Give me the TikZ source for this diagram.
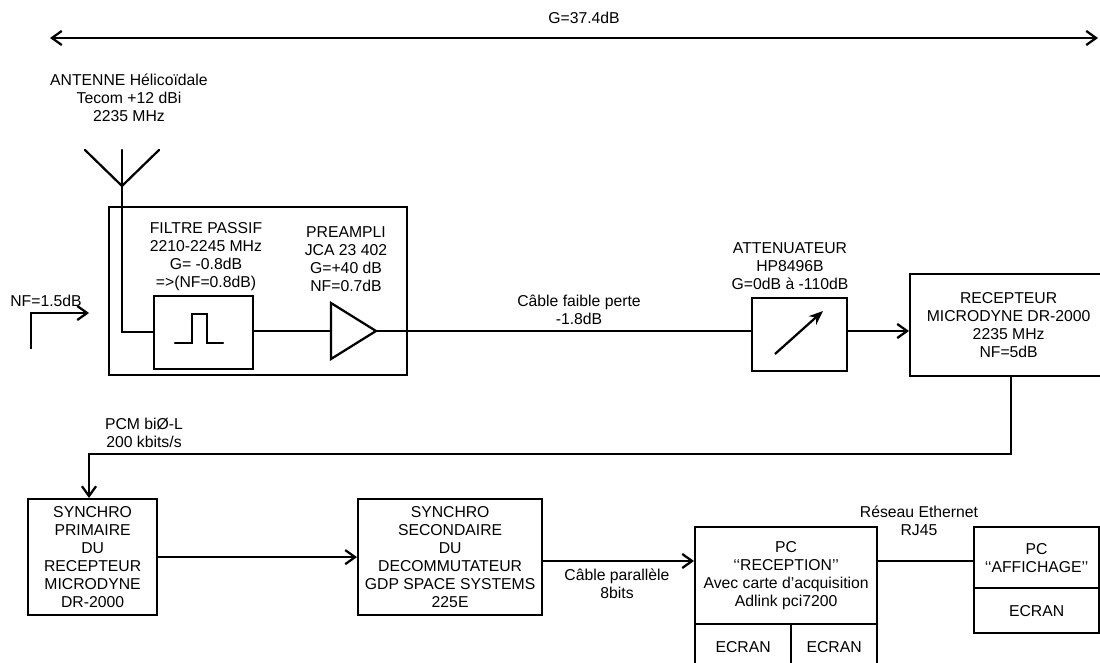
\documentclass[tikz,border=0pt]{standalone}
\usepackage{fontspec}
\setmainfont{Liberation Sans}
\usepackage{tikz}
\usetikzlibrary{arrows.meta, shapes.geometric}

\begin{document}
\begin{tikzpicture}[
    x=0.025cm, y=-0.025cm,
    line width=1.6pt,
    txt/.style={font=\fontsize{11.2}{12.8}\selectfont, align=center, inner sep=0pt},
    blk/.style={txt, draw, anchor=north west},
    arr/.style={-{Straight Barb[length=7pt, width=10pt, line width=1.6pt]}},
    dblarr/.style={{Straight Barb[length=7pt, width=10pt, line width=1.6pt]}-{Straight Barb[length=7pt, width=10pt, line width=1.6pt]}},
    wire/.style={line cap=round, line join=miter},
]
\useasboundingbox (0,0) rectangle (1100,663);

% Overall gain
\node[txt] (gain) at (584, 18) {G=37.4dB};
\coordinate (gainL) at (50, 38);
\coordinate (gainR) at (1098, 38);
\draw[dblarr] (gainL) -- (gainR);

% Antenna
\node[txt] (antlbl) at (129, 98) {ANTENNE Hélicoïdale\\Tecom +12 dBi\\2235 MHz};
\coordinate (antfoot) at (122, 186);
\coordinate (antmid) at (122, 150);
\coordinate (antL) at (85, 150);
\coordinate (antR) at (159, 150);
\coordinate (antcorner) at (122, 332);
\draw[wire] (antL) -- (antfoot) -- (antR);
\draw[wire] (antmid) -- (antfoot);

% Head-end box
\node[blk, minimum width=298*0.025cm, minimum height=168*0.025cm] (tete) at (108, 206) {};
\node[txt] (filtrelbl) at (206, 257) {FILTRE PASSIF\\2210-2245 MHz\\G= -0.8dB\\=>(NF=0.8dB)};
\node[blk, minimum width=99*0.025cm, minimum height=73*0.025cm] (filtre) at (153, 295) {};
\draw[wire] (175, 343) -- (192, 343) -- (192, 314) -- (207, 314) -- (207, 343) -- (223, 343);
\node[txt] (amplilbl) at (346, 259) {PREAMPLI\\JCA 23 402\\G=+40 dB\\NF=0.7dB};
\node[draw, isosceles triangle, isosceles triangle stretches, inner sep=0pt, outer sep=0pt, anchor=apex,
    minimum height=45*0.025cm, minimum width=56*0.025cm] (ampli) at (376, 331) {};

% Noise figure mark
\node[txt] (nflbl) at (46, 301) {NF=1.5dB};
\coordinate (nfbase) at (31, 349);
\coordinate (nftip) at (89, 313);
\draw[arr] (nfbase) |- (nftip);

% Attenuator
\node[txt] (attlbl) at (790, 266) {ATTENUATEUR\\HP8496B\\G=0dB à -110dB};
\node[blk, minimum width=95*0.025cm, minimum height=73*0.025cm] (att) at (751, 297) {};
\coordinate (attA) at (775, 354);
\coordinate (attB) at (823, 311);
\draw[-{Stealth[length=10pt, width=8pt]}] (attA) -- (attB);

% Cable
\node[txt] (cablelbl) at (579, 310) {Câble faible perte\\-1.8dB};

% Receiver
\node[blk, minimum width=197*0.025cm, minimum height=102*0.025cm] (recep) at (909, 273)
    {RECEPTEUR\\MICRODYNE DR-2000\\2235 MHz\\NF=5dB};

% Bottom row
\node[txt] (pcmlbl) at (144, 433) {PCM biØ-L\\200 kbits/s};
\node[blk, minimum width=129*0.025cm, minimum height=116*0.025cm] (synchroA) at (27, 498)
    {SYNCHRO\\PRIMAIRE\\DU\\RECEPTEUR\\MICRODYNE\\DR-2000};
\node[blk, minimum width=184*0.025cm, minimum height=116*0.025cm] (synchroB) at (357, 498)
    {SYNCHRO\\SECONDAIRE\\DU\\DECOMMUTATEUR\\GDP SPACE SYSTEMS\\225E};
\node[txt] (parlbl) at (617, 584) {Câble parallèle\\8bits};
\node[blk, minimum width=182*0.025cm, minimum height=97*0.025cm] (pcrec) at (694, 526)
    {PC\\‘‘RECEPTION’’\\Avec carte d’acquisition\\Adlink pci7200};
\node[blk, minimum width=96*0.025cm, minimum height=45*0.025cm] (ecranA) at (694, 623) {ECRAN};
\node[blk, minimum width=86*0.025cm, minimum height=45*0.025cm] (ecranB) at (790, 623) {ECRAN};
\node[txt] (ethlbl) at (919, 521) {Réseau Ethernet\\RJ45};
\node[blk, minimum width=125*0.025cm, minimum height=61*0.025cm] (pcaff) at (973, 526)
    {PC\\‘‘AFFICHAGE’’};
\node[blk, minimum width=125*0.025cm, minimum height=45*0.025cm] (ecranC) at (973, 587) {ECRAN};

% Connectors
\coordinate (bus) at (1011, 454);
\coordinate (busL) at (89, 454);
\coordinate (rowpc) at (0, 561);
\coordinate (rowatt) at (0, 331);
\draw[wire] (antfoot) -- (antcorner) -- (filtre.west |- antcorner);
\draw[wire] (filtre.east |- rowatt) -- (ampli.west |- rowatt);
\draw[wire] (ampli.apex) -- (att.west |- rowatt);
\draw[arr] (att.east |- rowatt) -- (recep.west |- rowatt);
\draw[arr] (recep.south -| bus) -- (bus) -- (busL) -- (synchroA.north -| busL);
\draw[arr] (synchroA.east) -- (synchroB.west |- synchroA.east);
\draw[arr] (synchroB.east |- rowpc) -- (pcrec.west |- rowpc);
\draw[wire] (pcrec.east |- rowpc) -- (pcaff.west |- rowpc);

\end{tikzpicture}
\end{document}
